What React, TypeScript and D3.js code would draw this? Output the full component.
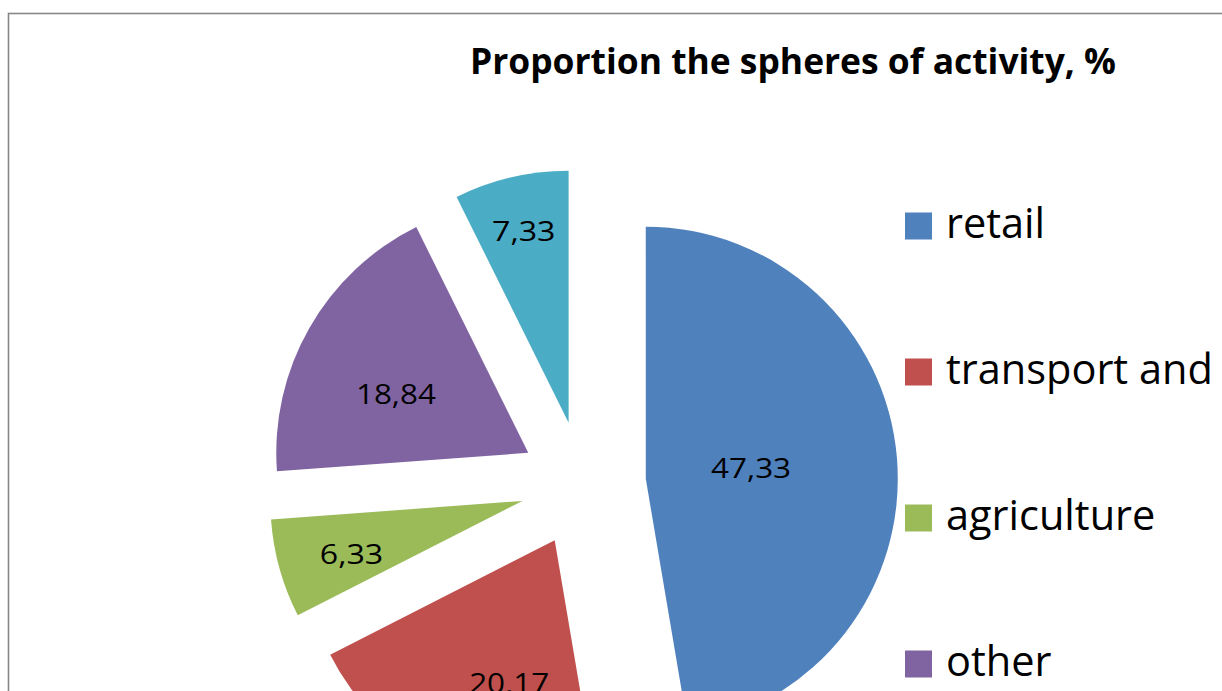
import React from "react";
import * as d3 from "d3";

const categories = ["retail", "transport and", "agriculture", "other", "services"];
const values = [47.33, 20.17, 6.33, 18.84, 7.33];
const valueLabels = ["47,33", "20,17", "6,33", "18,84", "7,33"];
const colors = ["#4F81BD", "#C0504D", "#9BBB59", "#8064A2", "#4BACC6"];
const labelRadius = [0.42, 0.595, 0.71, 0.575, 0.78];
const labelAngleShift = [-1, -9, -1.7, -5.7, 0];
const title = "Proportion the spheres of activity, %";

const W = 1222;
const H = 691;
const CX = 583;
const CY = 484;
const R = 252;
const EXPLODE = 63;

export default function App() {
  const pie = d3
    .pie<number>()
    .sort(null)
    .value((d) => d)
    .startAngle(0)
    .endAngle(2 * Math.PI);
  const arcs = pie(values);
  const arc = d3.arc<d3.PieArcDatum<number>>().innerRadius(0).outerRadius(R);

  const legendY = d3
    .scalePoint<string>()
    .domain(categories)
    .range([226, 226 + 146 * (categories.length - 1)]);

  return (
    <svg
      width={W}
      height={H}
      style={{ position: "absolute", left: 0, top: 0, display: "block", background: "#fff" }}
    >
      <rect x={8.5} y={13.5} width={1400} height={900} fill="#fff" stroke="#878787" strokeWidth={1.6} />
      <text
        x={793}
        y={74}
        textAnchor="middle"
        fontFamily="'Open Sans', sans-serif"
        fontWeight={700}
        fontSize={35}
        textLength={646}
        lengthAdjust="spacingAndGlyphs"
        fill="#000"
      >
        {title}
      </text>
      <g transform={`translate(${CX},${CY})`}>
        {arcs.map((a, i) => {
          const mid = (a.startAngle + a.endAngle) / 2;
          const dx = EXPLODE * Math.sin(mid);
          const dy = -EXPLODE * Math.cos(mid);
          const la = mid + (labelAngleShift[i] * Math.PI) / 180;
          const lr = labelRadius[i] * R;
          const lx = lr * Math.sin(la);
          const ly = -lr * Math.cos(la);
          return (
            <g key={categories[i]} transform={`translate(${dx},${dy})`}>
              <path d={arc(a) || ""} fill={colors[i]} />
              <text
                x={lx}
                y={ly}
                dy="0.35em"
                textAnchor="middle"
                fontFamily="'Open Sans', sans-serif"
                fontSize={28}
                textLength={valueLabels[i].length * 16.6 - 3}
                lengthAdjust="spacingAndGlyphs"
                fill="#000"
              >
                {valueLabels[i]}
              </text>
            </g>
          );
        })}
      </g>
      <g>
        {categories.map((c, i) => {
          const y = legendY(c) as number;
          return (
            <g key={c}>
              <rect x={905} y={y - 13.5} width={27} height={27} fill={colors[i]} />
              <text
                x={946}
                y={y + 12}
                fontFamily="'Open Sans', sans-serif"
                fontSize={41.5}
                fill="#000"
              >
                {c}
              </text>
            </g>
          );
        })}
      </g>
    </svg>
  );
}
